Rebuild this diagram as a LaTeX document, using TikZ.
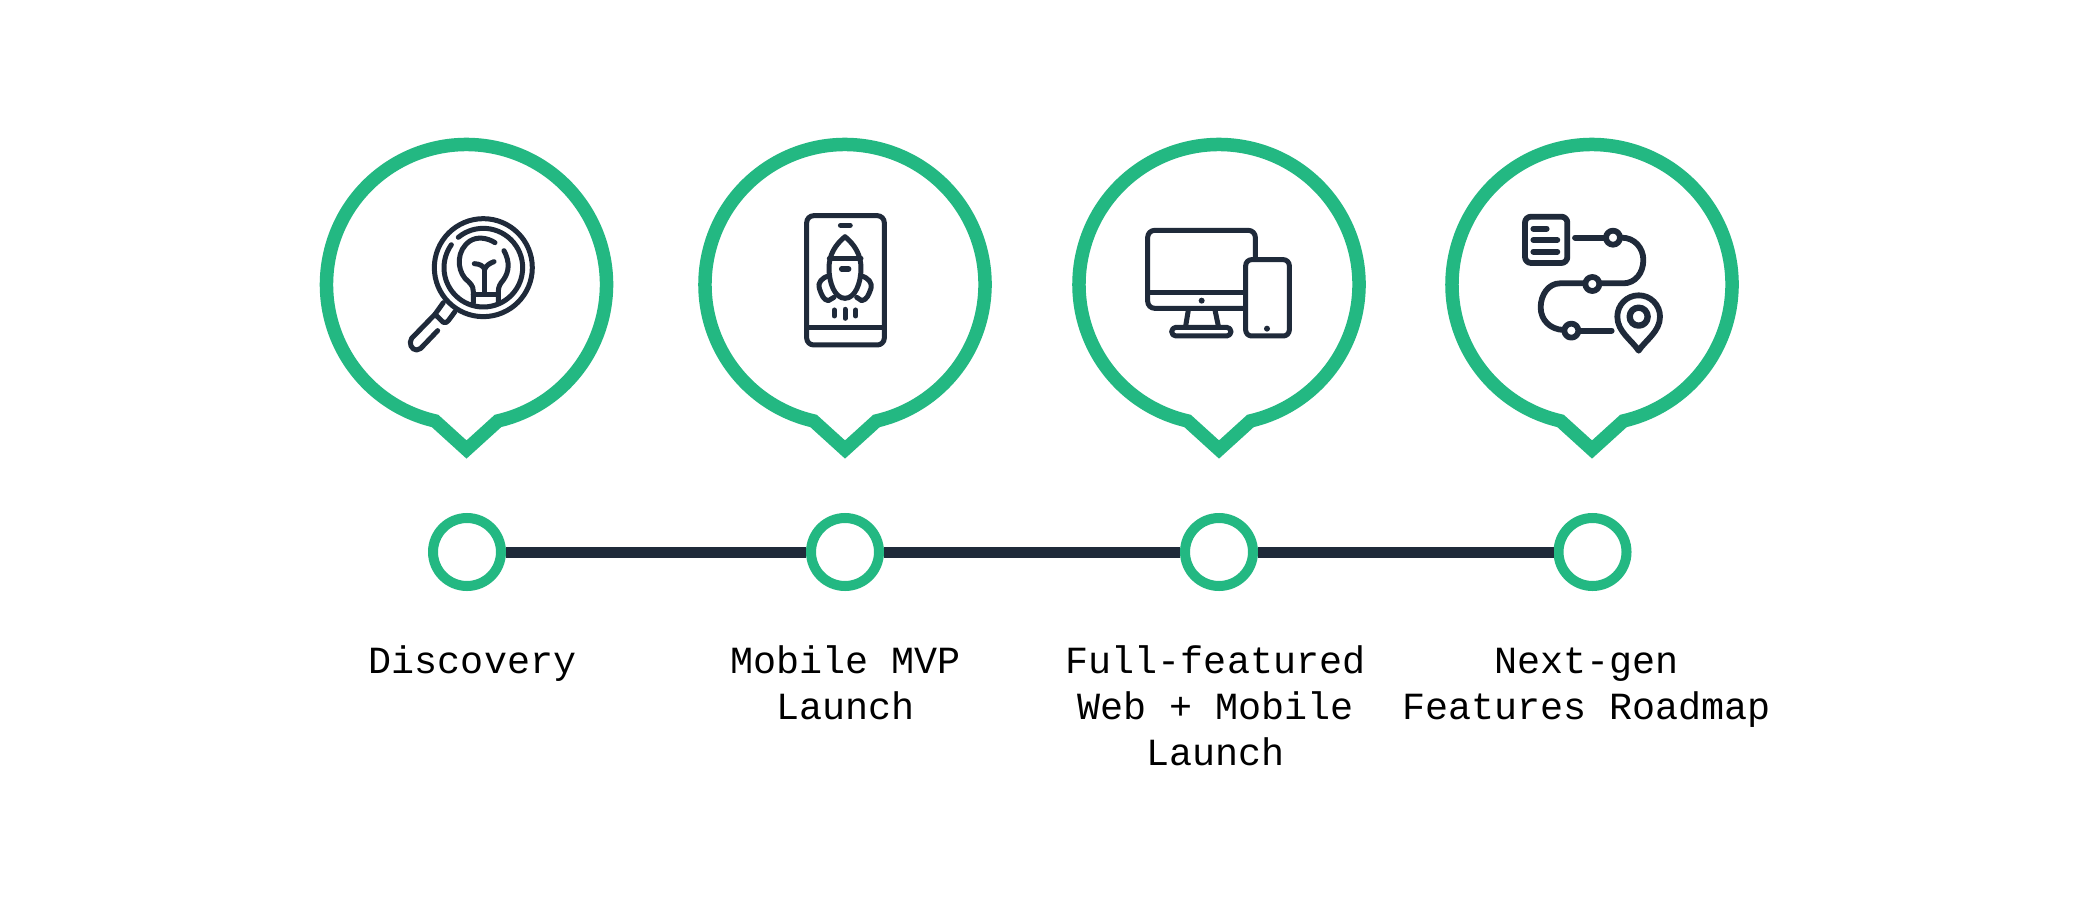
\documentclass[tikz,border=0pt]{standalone}
\usepackage{fontspec}
\setmainfont{Liberation Mono}
\definecolor{grn}{HTML}{23B882}
\definecolor{ink}{HTML}{1F2A3A}
\tikzset{
  bubble/.style={draw=grn,line width=13.5pt,line join=miter,miter limit=10},
  stop/.style={circle,draw=grn,line width=10pt,fill=white,minimum size=68pt,inner sep=0pt},
  link/.style={draw=ink,line width=11pt},
  lbl/.style={anchor=north,align=center,inner sep=0pt,text=black,font=\fontsize{38.4}{46}\selectfont},
  ic/.style={draw=ink,line width=5pt,line cap=round,line join=round},
}
\newcommand{\speech}[1]{\draw[bubble] (#1,284.5) ++(103:140) arc[start angle=103,end angle=437,radius=140] -- (#1,449.5) -- cycle;}
\begin{document}
\begin{tikzpicture}[x=1pt,y=-1pt]
\useasboundingbox (0,0) rectangle (2084,915);
\fill[white] (0,0) rectangle (2084,915);
\speech{466.5}\speech{845}\speech{1219}\speech{1592}
\node[stop] (s1) at (467,552) {};
\node[stop] (s2) at (845,552) {};
\node[stop] (s3) at (1219,552) {};
\node[stop] (s4) at (1592.5,552) {};
\draw[link] (s1) -- (s2);
\draw[link] (s2) -- (s3);
\draw[link] (s3) -- (s4);
\node[lbl] (t1) at (472.5,641) {\strut Discovery};
\node[lbl] (t2) at (845.5,641) {\strut Mobile MVP\\Launch};
\node[lbl] (t3) at (1215.5,641) {\strut Full-featured\\Web + Mobile\\Launch};
\node[lbl] (t4) at (1586.5,641) {\strut Next-gen\\Features Roadmap};
% icon 1
\begin{scope}[shift={(300,120)},x=0.3333pt,y=-0.3333pt,ic]
\draw (550,443) circle[radius=147];
\draw (475,352) arc[start angle=230.5,end angle=575.6,radius=118];
\draw (585,368) .. controls (560,352) and (530,350) .. (510,363) .. controls (470,390) and (470,445) .. (495,475) .. controls (510,490) and (520,495) .. (520,515) -- (520,550);
\draw (612,392) .. controls (630,425) and (628,455) .. (610,480) .. controls (600,492) and (595,500) .. (595,515) -- (595,550);
\draw (520,525) -- (595,525);
\draw[line width=5.5pt] (554,520) -- (554,445);
\draw (523,431) .. controls (540,432) and (550,438) .. (554,448) .. controls (558,438) and (568,430) .. (582,425);
\draw (430,548) -- (405,583) -- (430,607) .. controls (437,610) and (440,607) .. (445,602) -- (465,575);
\draw (405,583) -- (335,655) .. controls (325,670) and (335,690) .. (350,690) .. controls (360,690) and (365,682) .. (370,677) -- (413,632);
\end{scope}
% icon 2
\begin{scope}[shift={(760,190)},x=0.3333pt,y=-0.3333pt,ic]
\draw[rounded corners=7pt] (140,77) rectangle (373,465);
\draw (140,412) -- (373,412);
\draw[line width=5.5pt] (242,106) -- (270,106);
\draw (255,140) .. controls (225,165) and (207,195) .. (207,235) .. controls (207,280) and (225,325) .. (255,325) .. controls (285,325) and (303,280) .. (303,235) .. controls (303,195) and (285,165) .. (255,140) -- cycle;
\draw (208,205) -- (303,205);
\draw[line width=5.5pt] (245,237) -- (266,237);
\draw (207,258) .. controls (185,262) and (172,280) .. (178,295) .. controls (185,315) and (190,330) .. (205,332) -- (222,322);
\draw (303,258) .. controls (325,262) and (338,280) .. (333,295) .. controls (326,315) and (320,330) .. (305,332) -- (290,322);
\draw (223,360) -- (223,378);
\draw (255,358) -- (255,385);
\draw (287,360) -- (287,378);
\end{scope}
% icon 3
\begin{scope}[shift={(1120,200)},x=0.3333pt,y=-0.3333pt,ic]
\draw[rounded corners=7pt] (406,175) -- (406,91) -- (83,91) -- (83,325) -- (370,325);
\draw (83,277) -- (370,277);
\fill[ink] (245,302) circle[radius=9];
\draw (205,330) -- (197,378);
\draw (285,330) -- (295,378);
\draw[rounded corners=4.3pt] (155,382) rectangle (333,408);
\draw[rounded corners=6pt] (377,179) rectangle (508,408);
\fill[ink] (441,386) circle[radius=9];
\end{scope}
% icon 4
\begin{scope}[shift={(1500,200)},x=0.3333pt,y=-0.3333pt,ic,line width=5.8pt]
\draw[rounded corners=6pt] (75,50) rectangle (202,189);
\draw (100,86) -- (140,86);
\draw (100,120) -- (172,120);
\draw (100,155) -- (172,155);
\draw (225,113) -- (315,113);
\draw (339,113) circle[radius=21];
\draw (365,113) .. controls (405,113) and (430,145) .. (430,180) .. controls (430,220) and (405,250) .. (370,250) -- (302,250);
\draw (277,252) circle[radius=21];
\draw (252,250) -- (180,250) .. controls (145,250) and (122,285) .. (122,322) .. controls (122,360) and (150,388) .. (190,390);
\draw (214,392) circle[radius=21];
\draw (240,392) -- (335,392);
\draw (416,452) .. controls (395,420) and (352,395) .. (352,350) .. controls (352,315) and (380,286) .. (416,286) .. controls (452,286) and (480,315) .. (480,350) .. controls (480,395) and (437,420) .. (416,452) -- cycle;
\draw[line width=6.3pt] (416,350) circle[radius=27];
\end{scope}
\end{tikzpicture}
\end{document}
